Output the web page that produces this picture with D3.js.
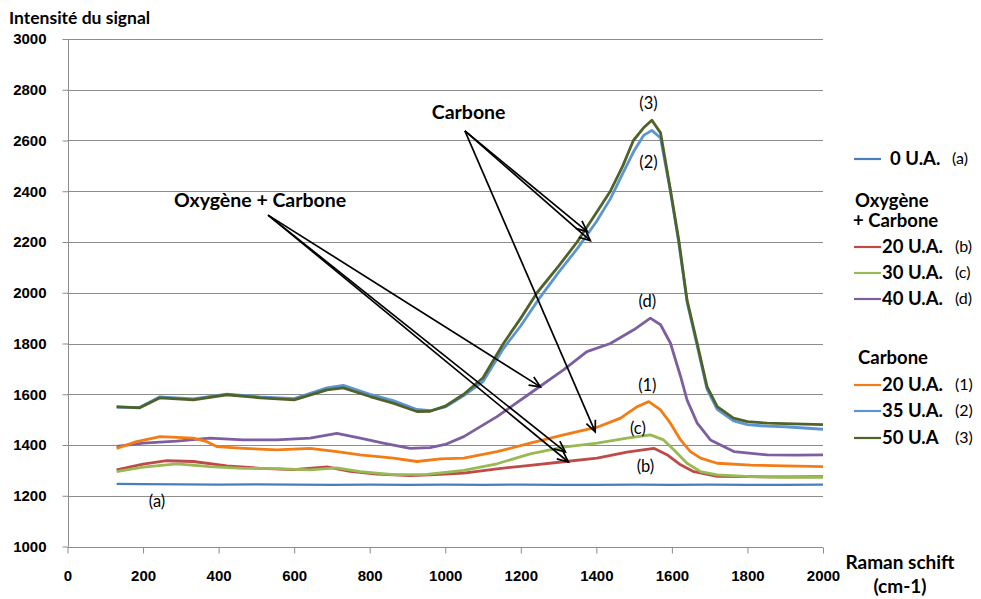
<!DOCTYPE html>
<html>
<head>
<meta charset="utf-8">
<script src="https://cdn.jsdelivr.net/npm/d3@7"></script>
<style>
  html, body { margin: 0; padding: 0; background: #fff; }
  svg { display: block; font-family: Lato, "Open Sans", sans-serif; }
</style>
</head>
<body>
<svg id="chart" width="981" height="599"></svg>
<script>
// Raman shift (cm-1) and signal intensity for each sample
const shiftA = [130, 200, 300, 400, 500, 600, 700, 800, 900, 1000, 1100, 1200, 1300, 1400, 1500, 1600, 1700, 1800, 1900, 2000];
const intensA = [1247, 1246, 1245, 1244, 1245, 1244, 1243, 1244, 1243, 1244, 1243, 1244, 1243, 1243, 1244, 1243, 1244, 1243, 1243, 1244];

const shiftB = [130, 200, 263, 333, 422, 510, 598, 687, 748, 819, 907, 960, 1049, 1137, 1225, 1313, 1402, 1481, 1552, 1587, 1623, 1658, 1720, 1800, 1900, 2000];
const intensB = [1302, 1325, 1338, 1335, 1318, 1308, 1303, 1314, 1296, 1285, 1279, 1282, 1289, 1306, 1320, 1334, 1348, 1372, 1387, 1362, 1322, 1295, 1276, 1275, 1274, 1275];

const shiftC = [130, 200, 289, 377, 466, 554, 642, 713, 775, 863, 951, 1049, 1137, 1225, 1313, 1402, 1481, 1543, 1578, 1605, 1640, 1676, 1720, 1808, 1900, 2000];
const intensC = [1295, 1313, 1326, 1315, 1308, 1307, 1302, 1310, 1295, 1283, 1284, 1300, 1326, 1365, 1392, 1407, 1427, 1440, 1420, 1381, 1328, 1295, 1282, 1275, 1273, 1273];

const shiftD = [130, 200, 289, 377, 465, 554, 642, 713, 775, 836, 907, 960, 1000, 1049, 1137, 1225, 1313, 1375, 1437, 1499, 1543, 1570, 1596, 1623, 1640, 1667, 1702, 1764, 1852, 1930, 2000];
const intensD = [1395, 1407, 1415, 1427, 1420, 1420, 1427, 1446, 1427, 1407, 1387, 1390, 1402, 1433, 1512, 1604, 1696, 1768, 1800, 1854, 1900, 1874, 1802, 1670, 1578, 1486, 1420, 1374, 1361, 1360, 1361];

const shift1 = [130, 183, 245, 333, 369, 395, 466, 554, 642, 713, 775, 863, 925, 987, 1049, 1137, 1225, 1313, 1402, 1464, 1508, 1539, 1570, 1596, 1623, 1649, 1676, 1720, 1808, 1900, 2000];
const intens1 = [1387, 1413, 1433, 1427, 1413, 1394, 1387, 1381, 1387, 1374, 1361, 1348, 1335, 1345, 1348, 1374, 1407, 1440, 1470, 1506, 1551, 1571, 1538, 1486, 1420, 1374, 1348, 1328, 1321, 1318, 1315];

const shift2 = [130, 190, 245, 333, 422, 510, 600, 687, 730, 801, 862, 925, 960, 1000, 1049, 1100, 1154, 1200, 1250, 1300, 1350, 1400, 1437, 1470, 1500, 1525, 1547, 1570, 1596, 1618, 1640, 1667, 1693, 1720, 1763, 1800, 1852, 1900, 2000];
const intens2 = [1548, 1548, 1590, 1582, 1600, 1590, 1583, 1625, 1635, 1600, 1575, 1540, 1535, 1550, 1595, 1650, 1780, 1870, 1980, 2080, 2175, 2280, 2370, 2470, 2560, 2620, 2640, 2610, 2400, 2200, 1965, 1790, 1620, 1540, 1495, 1480, 1474, 1472, 1462];

const shift3 = [130, 190, 245, 333, 422, 510, 600, 687, 730, 801, 862, 925, 960, 1000, 1049, 1100, 1154, 1200, 1243, 1300, 1349, 1400, 1437, 1470, 1498, 1525, 1547, 1570, 1596, 1618, 1640, 1667, 1693, 1720, 1763, 1800, 1852, 1900, 2000];
const intens3 = [1551, 1546, 1586, 1578, 1598, 1586, 1578, 1617, 1625, 1591, 1565, 1532, 1533, 1553, 1600, 1665, 1800, 1900, 2000, 2105, 2200, 2315, 2400, 2500, 2600, 2650, 2680, 2630, 2406, 2209, 1972, 1800, 1630, 1551, 1506, 1492, 1486, 1484, 1480];

// Legend labels and tags, in drawing order
const seriesLabels = ["0 U.A.", "20 U.A.", "30 U.A.", "40 U.A.", "20 U.A.", "35 U.A.", "50 U.A"];
const seriesTags = ["(a)", "(b)", "(c)", "(d)", "(1)", "(2)", "(3)"];

// Axis ticks
const xTicks = [0, 200, 400, 600, 800, 1000, 1200, 1400, 1600, 1800, 2000];
const yTicks = [1000, 1200, 1400, 1600, 1800, 2000, 2200, 2400, 2600, 2800, 3000];

const colors = ["#4A7EBB", "#BE4B48", "#98B954", "#7D5FA0", "#F47C14", "#5B95D3", "#4F6228"];
const series = [
  [shiftA, intensA], [shiftB, intensB], [shiftC, intensC], [shiftD, intensD],
  [shift1, intens1], [shift2, intens2], [shift3, intens3]
].map(([xs, ys], i) => ({
  label: seriesLabels[i], tag: seriesTags[i], color: colors[i],
  points: xs.map((x, j) => ({ x, y: ys[j] }))
}));

const svg = d3.select("#chart");
const x = d3.scaleLinear().domain([0, 2000]).range([67.5, 823]);
const y = d3.scaleLinear().domain([1000, 3000]).range([546.5, 39]);

const gridColor = "#8C8C8C";

// Horizontal gridlines
svg.append("g").selectAll("line").data(yTicks).join("line")
  .attr("x1", x(0)).attr("x2", x(2000))
  .attr("y1", d => Math.round(y(d)) + 0.5).attr("y2", d => Math.round(y(d)) + 0.5)
  .attr("stroke", gridColor).attr("stroke-width", 1);

// Y axis
const yAxis = svg.append("g")
  .attr("transform", `translate(${Math.round(x(0)) + 0.5},0)`)
  .call(d3.axisLeft(y).tickValues(yTicks).tickSize(6).tickPadding(16).tickFormat(d3.format("d")));
yAxis.select(".domain").attr("stroke", gridColor).attr("d", `M0,${y(3000)}V${y(1000)}`);
yAxis.selectAll(".tick line").attr("stroke", gridColor);
yAxis.selectAll(".tick text")
  .attr("fill", "#000").style("font-size", "15px").style("font-weight", 700);

// X axis
const xAxis = svg.append("g")
  .attr("transform", `translate(0,${Math.round(y(1000)) + 0.5})`)
  .call(d3.axisBottom(x).tickValues(xTicks).tickSize(6).tickPadding(17).tickFormat(d3.format("d")));
xAxis.select(".domain").attr("stroke", gridColor).attr("d", `M${x(0)},0H${x(2000)}`);
xAxis.selectAll(".tick line").attr("stroke", gridColor);
xAxis.selectAll(".tick text")
  .attr("fill", "#000").style("font-size", "15px").style("font-weight", 700);

// Axis titles
svg.append("text").attr("x", 9).attr("y", 24)
  .style("font-size", "17.5px").style("font-weight", 700).text("Intensité du signal");
svg.append("text").attr("x", 900).attr("y", 569).attr("text-anchor", "middle")
  .style("font-size", "19px").style("font-weight", 700).text("Raman schift");
svg.append("text").attr("x", 900).attr("y", 593).attr("text-anchor", "middle")
  .style("font-size", "19px").style("font-weight", 700).text("(cm-1)");

// Spectra
const lineGen = d3.line().x(d => x(d.x)).y(d => y(d.y));
svg.append("g").selectAll("path").data(series).join("path")
  .attr("d", d => lineGen(d.points))
  .attr("fill", "none")
  .attr("stroke", d => d.color)
  .attr("stroke-width", (d, i) => i === 0 ? 2.2 : 2.8)
  .attr("stroke-linejoin", "round");

// Curve tags
const curveTags = [
  { t: "(3)", v: 1538, i: 2748 },
  { t: "(2)", v: 1538, i: 2515 },
  { t: "(d)", v: 1535, i: 1966 },
  { t: "(1)", v: 1535, i: 1634 },
  { t: "(c)", v: 1510, i: 1468 },
  { t: "(b)", v: 1530, i: 1318 },
  { t: "(a)", v: 237, i: 1180 }
];
svg.append("g").selectAll("text").data(curveTags).join("text")
  .attr("x", d => x(d.v)).attr("y", d => y(d.i)).attr("dy", "0.35em")
  .attr("text-anchor", "middle").style("font-size", "16.5px").text(d => d.t);

// Annotation arrows
function arrow(g, from, to) {
  const x1 = x(from[0]), y1 = y(from[1]), x2 = x(to[0]), y2 = y(to[1]);
  const a = Math.atan2(y2 - y1, x2 - x1), len = 12, spread = 0.42;
  g.append("line").attr("x1", x1).attr("y1", y1).attr("x2", x2).attr("y2", y2);
  g.append("path").attr("fill", "none").attr("d",
    `M${x2 - len * Math.cos(a - spread)},${y2 - len * Math.sin(a - spread)}L${x2},${y2}L${x2 - len * Math.cos(a + spread)},${y2 - len * Math.sin(a + spread)}`);
}
const arrowG = svg.append("g").attr("stroke", "#000").attr("stroke-width", 1.7);
const carboneFrom = [1052, 2638];
[[1376, 2241], [1384, 2205], [1397, 1452]].forEach(p => arrow(arrowG, carboneFrom, p));
const oxyFrom = [531, 2306];
[[1252, 1629], [1318, 1373], [1326, 1333]].forEach(p => arrow(arrowG, oxyFrom, p));

svg.append("text").attr("x", x(1062)).attr("y", y(2712)).attr("dy", "0.35em")
  .attr("text-anchor", "middle").style("font-size", "19.5px").style("font-weight", 700).text("Carbone");
svg.append("text").attr("x", x(510)).attr("y", y(2365)).attr("dy", "0.35em")
  .attr("text-anchor", "middle").style("font-size", "19.5px").style("font-weight", 700).text("Oxygène + Carbone");

// Legend
const legendRows = [159, 247, 273, 299, 385, 411, 438];
const legend = svg.append("g");
series.forEach((s, i) => {
  const yy = legendRows[i];
  legend.append("line").attr("x1", 854).attr("x2", 881).attr("y1", yy).attr("y2", yy)
    .attr("stroke", s.color).attr("stroke-width", 2.2);
  legend.append("text").attr("x", i === 0 ? 890 : 882).attr("y", yy).attr("dy", "0.35em")
    .style("font-size", "18.5px").style("font-weight", 700).text(s.label);
  legend.append("text").attr("x", i === 0 ? 952 : 955).attr("y", yy - 1).attr("dy", "0.35em")
    .style("font-size", "16px").text(s.tag);
});
legend.append("text").attr("x", 855).attr("y", 201).attr("dy", "0.35em")
  .style("font-size", "18.5px").style("font-weight", 700).text("Oxygène");
legend.append("text").attr("x", 853).attr("y", 221).attr("dy", "0.35em")
  .style("font-size", "18.5px").style("font-weight", 700).text("+ Carbone");
legend.append("text").attr("x", 858).attr("y", 358).attr("dy", "0.35em")
  .style("font-size", "18.5px").style("font-weight", 700).text("Carbone");
</script>
</body>
</html>
